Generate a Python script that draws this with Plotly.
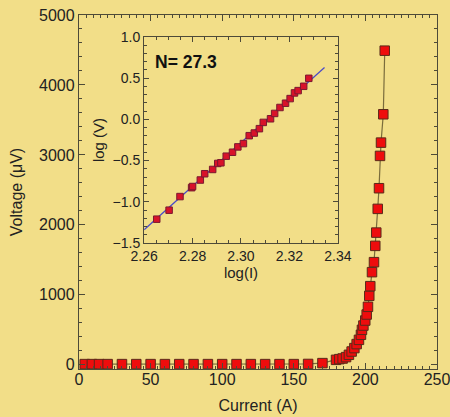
import plotly.graph_objects as go

# Main data: current (A) vs voltage (uV)
current = [4, 9, 14, 20, 30, 40, 50, 60, 70, 80, 90, 100, 110, 120, 130, 140, 150, 160, 170,
           179.5, 181.8, 184.1, 186.5, 188.5, 190.4, 192.3, 193.9, 195.5, 196.9, 197.6, 198.6,
           199.9, 200.9, 201.8, 202.7, 203.4, 204.6, 206.0, 206.9, 207.6, 208.6, 209.5, 210.2,
           210.9, 212.5, 213.5]
voltage = [10, 10, 10, 10, 10, 10, 10, 10, 10, 10, 10, 10, 10, 10, 10, 10, 10, 12, 24,
           71, 81, 90, 110, 143, 190, 239, 296, 357, 429, 500, 561,
           633, 719, 829, 986, 1124, 1324, 1467, 1700, 1890, 2229, 2524, 2986,
           3176, 3581, 4490]

# Inset data: log(I) vs log(V)
log_i = [2.2652, 2.2703, 2.2748, 2.2796, 2.2800, 2.2832, 2.2850, 2.2883, 2.2904, 2.2917,
         2.2939, 2.2965, 2.2987, 2.3010, 2.3034, 2.3055, 2.3076, 2.3092, 2.3122, 2.3139,
         2.3161, 2.3184, 2.3203, 2.3221, 2.3236, 2.3259, 2.3280]
log_v = [-1.211, -1.102, -0.937, -0.829, -0.815, -0.736, -0.660, -0.608, -0.535, -0.527,
         -0.447, -0.399, -0.334, -0.294, -0.198, -0.166, -0.113, -0.037, 0.007, 0.072,
         0.144, 0.196, 0.252, 0.321, 0.349, 0.401, 0.498]

# Fit line
fit_x = [2.26, 2.3345]
fit_y = [-1.34, 0.63]
fit_label = "N= 27.3"

BG = "#F2DE88"
FRAME = "#4d4a38"
FONT = "Liberation Sans, Arial, sans-serif"

fig = go.Figure()
fig.add_trace(go.Scatter(
    x=current, y=voltage, mode="lines+markers",
    line=dict(color="#7a6c3c", width=1.2),
    marker=dict(symbol="square", size=9.5, color="#ee0d0d",
                line=dict(color="#5a2a1a", width=1)),
    xaxis="x", yaxis="y", showlegend=False))

fig.add_trace(go.Scatter(
    x=fit_x, y=fit_y, mode="lines",
    line=dict(color="#4a4ac8", width=1.2),
    xaxis="x2", yaxis="y2", showlegend=False))
fig.add_trace(go.Scatter(
    x=log_i, y=log_v, mode="markers",
    marker=dict(symbol="square", size=6.5, color="#d8122a",
                line=dict(color="#7a1a30", width=1)),
    xaxis="x2", yaxis="y2", showlegend=False))

axis_common = dict(showgrid=False, zeroline=False, showline=True, linecolor=FRAME,
                   linewidth=1.3, mirror="allticks", ticks="inside", automargin=False,
                   ticklabeloverflow="allow",
                   tickcolor=FRAME, tickfont=dict(family=FONT, size=16, color="#222"))
inset_common = dict(showgrid=False, zeroline=False, showline=True, linecolor=FRAME,
                    linewidth=1.2, mirror="allticks", ticks="inside", tickcolor=FRAME,
                    automargin=False, ticklabeloverflow="allow",
                    tickfont=dict(family=FONT, size=14, color="#222"))

fig.update_layout(
    width=450, height=417,
    margin=dict(l=79, r=13, t=15, b=48),
    paper_bgcolor=BG, plot_bgcolor=BG,
    font=dict(family=FONT, color="#222"),
    xaxis=dict(**axis_common, range=[0, 250], dtick=50, ticklen=6, tickwidth=1.2,
               ticklabelstandoff=-4,
               minor=dict(dtick=5, ticklen=3, ticks="inside", tickcolor=FRAME),
               title=dict(text="Current (A)", font=dict(size=16), standoff=12),
               domain=[0, 1]),
    yaxis=dict(**axis_common, range=[-60, 5000], tickvals=[0, 1000, 2000, 3000, 4000, 5000],
               ticklen=6, tickwidth=1.2,
               minor=dict(tickvals=list(range(200, 5000, 200)), ticklen=3, ticks="inside",
                          tickcolor=FRAME),
               title=dict(text="Voltage (μV)", font=dict(size=16), standoff=12),
               domain=[0, 1]),
    xaxis2=dict(**inset_common,
                range=[2.26, 2.34], dtick=0.02, tickformat=".2f", ticklen=5,
                minor=dict(dtick=0.005, ticklen=3, ticks="inside", tickcolor=FRAME),
                title=dict(text="log(I)", font=dict(size=15), standoff=2),
                domain=[0.182, 0.723], anchor="y2"),
    yaxis2=dict(**inset_common,
                range=[-1.5, 1.0], dtick=0.5, tickformat=".1f", ticklen=5,
                minor=dict(dtick=0.1, ticklen=3, ticks="inside", tickcolor=FRAME),
                title=dict(text="log (V)", font=dict(size=15), standoff=4),
                domain=[0.356, 0.938], anchor="x2"),
    annotations=[dict(text="<b>" + fit_label + "</b>", x=0.045, y=0.935,
                      xref="x2 domain", yref="y2 domain", xanchor="left", yanchor="top",
                      showarrow=False, font=dict(family=FONT, size=17.5, color="#111"))],
)

fig.write_html("out.html")
